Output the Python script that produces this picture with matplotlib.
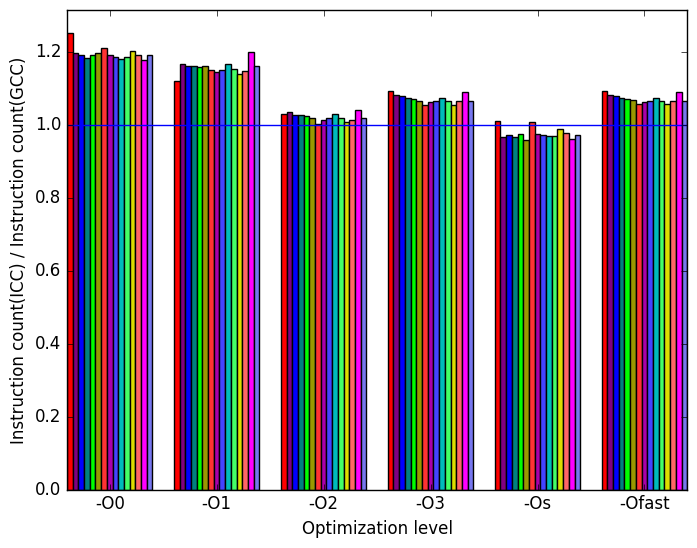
import numpy as np
import matplotlib
matplotlib.use('Agg')
import matplotlib.pyplot as plt

plt.style.use('classic')

levels = ['-O0', '-O1', '-O2', '-O3', '-Os', '-Ofast']

# one row per optimization level, one column per benchmark
ratios = [
    [1.253, 1.197, 1.192, 1.184, 1.192, 1.197, 1.211, 1.192, 1.186, 1.180, 1.186, 1.203, 1.191, 1.178, 1.191],
    [1.120, 1.166, 1.163, 1.163, 1.158, 1.161, 1.150, 1.146, 1.150, 1.166, 1.154, 1.139, 1.147, 1.201, 1.161],
    [1.029, 1.035, 1.027, 1.027, 1.024, 1.018, 1.002, 1.015, 1.020, 1.031, 1.018, 1.007, 1.015, 1.042, 1.018],
    [1.093, 1.083, 1.079, 1.075, 1.071, 1.066, 1.056, 1.064, 1.067, 1.075, 1.066, 1.056, 1.067, 1.090, 1.067],
    [1.011, 0.967, 0.972, 0.968, 0.976, 0.960, 1.007, 0.976, 0.974, 0.969, 0.969, 0.989, 0.979, 0.963, 0.974],
    [1.094, 1.083, 1.079, 1.075, 1.071, 1.068, 1.057, 1.064, 1.067, 1.075, 1.067, 1.057, 1.067, 1.090, 1.067],
]

colors = ['#ff0000', '#800080', '#0000ff', '#008080', '#00ff00', '#999900',
          '#ff3333', '#aa00aa', '#4444ff', '#00bbbb', '#44ff66', '#dddd00',
          '#ff6666', '#ff00ff', '#7777ee']

ratios = np.array(ratios)
n_groups, n_bars = ratios.shape
x = np.arange(n_groups)
width = 0.8 / n_bars

fig, ax = plt.subplots(figsize=(6.97, 5.48))
for i in range(n_bars):
    ax.bar(x - 0.4 + i * width, ratios[:, i], width, color=colors[i],
           edgecolor='black', linewidth=1, align='edge')

ax.axhline(1.0, color='blue', linewidth=1)

ax.set_xticks(x)
ax.set_xticklabels(levels)
ax.set_xlim(-0.4, n_groups - 0.6)
ax.set_ylim(0, ratios.max() * 1.05)
ax.set_xlabel('Optimization level')
ax.set_ylabel('Instruction count(ICC) / Instruction count(GCC)')

fig.subplots_adjust(left=0.096, right=0.986, top=0.982, bottom=0.106)
plt.savefig('out.png', dpi=100)
